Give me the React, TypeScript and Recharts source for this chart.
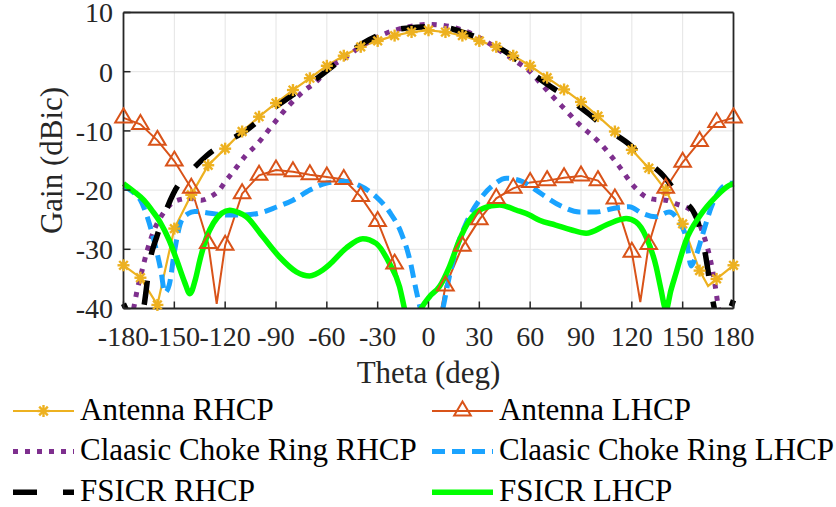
import React from "react";
import { LineChart, Line, XAxis, YAxis, CartesianGrid, Legend, Label } from "recharts";

const FONT = "'Liberation Serif', 'Times New Roman', serif";
const AXIS_COLOR = "#262626";

const THETA_TICKS = [-180, -150, -120, -90, -60, -30, 0, 30, 60, 90, 120, 150, 180];
const GAIN_TICKS = [-40, -30, -20, -10, 0, 10];

// Antenna RHCP (markers every 10 deg)
const ANT_RHCP_THETA = [-180, -170, -160, -150, -140, -130, -120, -110, -100, -90, -80, -70, -60, -50, -40, -30, -20, -10, 0, 10, 20, 30, 40, 50, 60, 70, 80, 90, 100, 110, 120, 130, 140, 150, 160, 165, 170, 180];
const ANT_RHCP_GAIN = [-32.7, -34.8, -39.4, -26.5, -20.8, -15.8, -13.0, -10.1, -7.6, -5.3, -3.1, -1.1, 1.0, 2.7, 4.2, 5.2, 6.1, 6.7, 7.0, 6.7, 6.1, 5.2, 4.2, 2.7, 1.0, -1.0, -3.0, -5.1, -7.5, -10.1, -13.2, -16.3, -20.0, -25.7, -33.6, -36.2, -35.0, -32.7];

// Antenna LHCP
const ANT_LHCP_THETA = [-180, -170, -160, -150, -140, -130, -125, -120, -110, -100, -90, -80, -70, -60, -50, -40, -30, -20, -10, 0, 10, 20, 30, 40, 50, 60, 70, 80, 90, 100, 110, 120, 125, 130, 140, 150, 160, 170, 180];
const ANT_LHCP_GAIN = [-7.8, -8.9, -11.6, -15.1, -19.7, -29.0, -39.2, -29.3, -20.6, -17.5, -16.6, -16.9, -17.4, -17.8, -18.2, -21.1, -25.3, -32.5, -45.5, -52, -36.2, -29.5, -25.0, -21.4, -19.7, -18.7, -18.4, -17.9, -17.6, -18.4, -21.5, -30.5, -38.9, -29.2, -19.7, -15.3, -11.8, -8.6, -7.8];

// Claasic choke ring RHCP
const CCR_RHCP_THETA = [-180, -175, -172, -169, -166, -162, -156.5, -149, -141, -134, -128, -124, -120, -115, -108, -101, -92, -82, -72, -67, -60, -49, -37, -25, -13, 0, 13, 24, 34, 44, 54, 60, 66, 72, 79, 89, 101, 111, 122, 128, 134, 140, 146, 156, 162, 166, 169, 171, 175, 180];
const CCR_RHCP_GAIN = [-48, -41.5, -37, -33.5, -30.2, -26.8, -23.9, -21.8, -21.4, -21.7, -21.0, -20.2, -18.6, -16.8, -14.2, -12.2, -9.0, -5.6, -2.9, -1.9, 0.3, 2.4, 4.8, 6.5, 7.5, 8.0, 7.6, 6.6, 5.1, 3.2, 1.3, 0.0, -1.9, -3.8, -5.9, -8.9, -12.0, -15.4, -19.6, -21.1, -21.6, -21.7, -22.3, -23.7, -27.3, -31.3, -35.8, -39.7, -45, -50];

// Claasic choke ring LHCP
const CCR_LHCP_THETA = [-180, -175, -170, -166, -162, -158, -155.5, -153, -150, -146, -142, -138, -129, -119, -109, -100, -90, -80, -70, -60, -50, -41, -31, -23, -16, -11, -7.3, -5, 0, 5, 8.5, 11.4, 16.3, 22.2, 30, 38, 46, 55.7, 63.5, 69, 79, 89, 99, 109, 118.5, 126, 134, 142, 148, 152, 155, 158, 162, 167, 172, 177, 180];
const CCR_LHCP_GAIN = [-19.4, -20.2, -21.7, -24.5, -28.5, -33.5, -37.3, -36, -30.5, -25.3, -24, -23.6, -23.9, -24.2, -24.2, -23.9, -22.9, -21.7, -20.0, -18.8, -18.5, -19.2, -21.1, -23.7, -27.3, -31.8, -36.9, -39.8, -44, -43, -40, -35.8, -30.1, -25.6, -21.7, -19.2, -18.0, -18.6, -20.0, -21.1, -22.8, -23.7, -23.7, -23.1, -22.8, -23.9, -24.5, -23.7, -25.4, -28, -32.8, -31, -27.3, -22.8, -20, -18.9, -18.8];

// FSICR RHCP
const FSICR_RHCP_THETA = [-180, -177, -173, -170, -168, -164.3, -160.4, -155.5, -150.6, -145, -139, -131, -120, -107, -94, -82, -70, -58, -46, -35, -21, -7, 0, 9, 21, 35, 48, 60, 72, 79, 94, 106, 119, 128, 139, 148, 158, 161, 163.5, 166.7, 168.7, 172, 176, 178, 180];
const FSICR_RHCP_GAIN = [-39.2, -41, -43, -42, -39.7, -31.8, -27.9, -23.9, -20.6, -18.1, -16.4, -14.2, -12.0, -9.8, -6.7, -4.3, -2.0, 0.6, 3.4, 5.4, 7.0, 7.5, 7.6, 7.5, 6.6, 5.0, 2.9, 0.0, -2.5, -3.8, -7.0, -9.8, -12.4, -14.9, -17.7, -21.1, -24.6, -27.5, -31, -36.9, -40, -43, -42, -40.2, -38.6];

// FSICR LHCP
const FSICR_LHCP_THETA = [-180, -174, -168, -163, -158.4, -153, -148.6, -144, -140.8, -137.5, -134.9, -131, -127, -122, -117.3, -112, -107.5, -97.7, -87.9, -78, -70.2, -62.4, -58.5, -48.6, -38.8, -30.9, -23, -17.1, -14.2, -10, -6, -4.3, 0.6, 6.5, 12.4, 18.3, 24.2, 32, 42, 52, 59.6, 65.5, 75, 84, 93, 104.8, 113, 116.6, 122.5, 128.4, 134.4, 137, 140.2, 143, 146, 152, 159.8, 169.7, 177.5, 180];
const FSICR_LHCP_GAIN = [-18.9, -20.2, -21.7, -23.5, -25.4, -28.5, -31.8, -35.5, -37.5, -35, -31.8, -28, -25.6, -23.9, -23.4, -23.8, -24.5, -27.9, -31.3, -33.8, -34.5, -33.5, -32.6, -29.8, -28.2, -29.0, -32.4, -36.3, -40, -45, -41, -40, -38, -36.3, -32.9, -28.4, -25.1, -23.1, -22.5, -23.4, -24.2, -25.1, -25.9, -26.7, -27.3, -25.9, -25, -24.8, -25.4, -27.9, -33, -36.5, -40.2, -37, -34.1, -28.5, -24.5, -21.1, -19.2, -18.9];

type Pt = { theta: number; g: number };

const zip = (t: number[], g: number[]): Pt[] => t.map((theta, i) => ({ theta, g: g[i] }));

// markers sit on the 10 deg grid and are only drawn inside the axes
const markerPoints = (pts: Pt[]) =>
  pts.filter((p) => p.theta % 10 === 0 && p.g >= -40 && p.g <= 10);

type Series = {
  name: string;
  data: Pt[];
  color: string;
  width: number;
  dash?: string;
  curve: "linear" | "monotone";
  marker?: "star" | "tri";
};

const SERIES: Series[] = [
  { name: "Antenna RHCP", data: zip(ANT_RHCP_THETA, ANT_RHCP_GAIN), color: "#EDB120", width: 2.2, curve: "linear", marker: "star" },
  { name: "Antenna LHCP", data: zip(ANT_LHCP_THETA, ANT_LHCP_GAIN), color: "#D95319", width: 2, curve: "linear", marker: "tri" },
  { name: "Claasic Choke Ring RHCP", data: zip(CCR_RHCP_THETA, CCR_RHCP_GAIN), color: "#7E2F8E", width: 5, dash: "5 7", curve: "monotone" },
  { name: "Claasic Choke Ring LHCP", data: zip(CCR_LHCP_THETA, CCR_LHCP_GAIN), color: "#1AA3FF", width: 5, dash: "13 7", curve: "monotone" },
  { name: "FSICR RHCP", data: zip(FSICR_RHCP_THETA, FSICR_RHCP_GAIN), color: "#000000", width: 5.5, dash: "24 26", curve: "monotone" },
  { name: "FSICR LHCP", data: zip(FSICR_LHCP_THETA, FSICR_LHCP_GAIN), color: "#00FF00", width: 5.5, curve: "monotone" },
];

const Star = ({ cx, cy, color }: { cx: number; cy: number; color: string }) => (
  <g stroke={color} strokeWidth={2.4}>
    <line x1={cx - 6} y1={cy} x2={cx + 6} y2={cy} />
    <line x1={cx} y1={cy - 6} x2={cx} y2={cy + 6} />
    <line x1={cx - 4.3} y1={cy - 4.3} x2={cx + 4.3} y2={cy + 4.3} />
    <line x1={cx - 4.3} y1={cy + 4.3} x2={cx + 4.3} y2={cy - 4.3} />
    <circle cx={cx} cy={cy} r={2.8} fill={color} stroke="none" />
  </g>
);

const Tri = ({ cx, cy, color }: { cx: number; cy: number; color: string }) => (
  <path
    d={`M${cx},${cy - 9.5}L${cx + 8.3},${cy + 4.5}L${cx - 8.3},${cy + 4.5}Z`}
    fill="none"
    stroke={color}
    strokeWidth={2}
  />
);

const renderMarker = (s: Series) => (p: any) => {
  if (p.cx == null || p.cy == null) return <g key={`m-${p.index}`} />;
  return s.marker === "star" ? (
    <Star key={`m-${p.index}`} cx={p.cx} cy={p.cy} color={s.color} />
  ) : (
    <Tri key={`m-${p.index}`} cx={p.cx} cy={p.cy} color={s.color} />
  );
};

const LegendBox = () => (
  <svg width={836} height={119} style={{ display: "block" }}>
    {SERIES.map((s, i) => {
      const x0 = i % 2 ? 432 : 13;
      const y = 23 + Math.floor(i / 2) * 40.6;
      return (
        <g key={s.name}>
          <line x1={x0} x2={x0 + 61} y1={y} y2={y} stroke={s.color} strokeWidth={s.width} strokeDasharray={s.dash} />
          {s.marker === "star" && <Star cx={x0 + 30.5} cy={y} color={s.color} />}
          {s.marker === "tri" && <Tri cx={x0 + 30.5} cy={y} color={s.color} />}
          <text x={x0 + 67} y={y + 8.5} fontSize={31} fontFamily={FONT} fill="#000">
            {s.name}
          </text>
        </g>
      );
    })}
  </svg>
);

export default function App() {
  const tickStyle = { fill: AXIS_COLOR, fontSize: 28, fontFamily: FONT };
  const axisLine = { stroke: AXIS_COLOR, strokeWidth: 1.8 };
  const tickLine = { stroke: AXIS_COLOR, strokeWidth: 1.5 };

  return (
    <div style={{ position: "absolute", left: 0, top: 0, width: 836, height: 507, background: "#fff" }}>
      <LineChart
        width={836}
        height={507}
        margin={{ top: 11.5, right: 101.5, bottom: 118.5, left: 0 }}
      >
        <CartesianGrid stroke="#e4e4e4" strokeWidth={1} />
        <XAxis
          dataKey="theta"
          type="number"
          domain={[-180, 180]}
          ticks={THETA_TICKS}
          interval={0}
          height={80}
          tick={tickStyle}
          tickSize={-7}
          tickMargin={25}
          axisLine={axisLine}
          tickLine={tickLine}
        >
          <Label value="Theta (deg)" position="insideBottom" offset={5.5} fontSize={31} fill={AXIS_COLOR} fontFamily={FONT} />
        </XAxis>
        <XAxis
          xAxisId="top"
          dataKey="theta"
          type="number"
          orientation="top"
          domain={[-180, 180]}
          ticks={THETA_TICKS}
          interval={0}
          height={1}
          tick={false}
          tickSize={-7}
          axisLine={axisLine}
          tickLine={tickLine}
        />
        <YAxis
          type="number"
          domain={[-40, 10]}
          ticks={GAIN_TICKS}
          interval={0}
          allowDataOverflow
          width={123.5}
          tick={tickStyle}
          tickSize={-7}
          tickMargin={17.5}
          axisLine={axisLine}
          tickLine={tickLine}
        >
          <Label
            value="Gain (dBic)"
            angle={-90}
            position="insideLeft"
            offset={51}
            fontSize={31}
            fill={AXIS_COLOR}
            fontFamily={FONT}
            style={{ textAnchor: "middle" }}
          />
        </YAxis>
        <YAxis
          yAxisId="right"
          orientation="right"
          type="number"
          domain={[-40, 10]}
          ticks={GAIN_TICKS}
          interval={0}
          width={1}
          tick={false}
          tickSize={-7}
          axisLine={axisLine}
          tickLine={tickLine}
        />
        {SERIES.map((s) => (
          <Line
            key={s.name}
            name={s.name}
            data={s.data}
            dataKey="g"
            type={s.curve}
            stroke={s.color}
            strokeWidth={s.width}
            strokeDasharray={s.dash}
            dot={false}
            activeDot={false}
            isAnimationActive={false}
          />
        ))}
        {SERIES.filter((s) => s.marker).map((s) => (
          <Line
            key={`${s.name}-markers`}
            name={`${s.name} markers`}
            data={markerPoints(s.data)}
            dataKey="g"
            yAxisId="right"
            stroke="none"
            dot={renderMarker(s)}
            activeDot={false}
            legendType="none"
            isAnimationActive={false}
          />
        ))}
        <Legend
          layout="vertical"
          align="center"
          verticalAlign="middle"
          wrapperStyle={{ left: 0, top: 388, width: 836, height: 119 }}
          content={() => <LegendBox />}
        />
      </LineChart>
    </div>
  );
}
